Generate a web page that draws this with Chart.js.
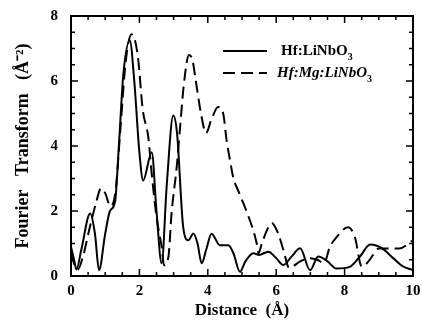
<!DOCTYPE html>
<html>
<head>
<meta charset="utf-8">
<script src="https://cdn.jsdelivr.net/npm/chart.js@4.4.1/dist/chart.umd.min.js"></script>
<style>
  html, body { margin: 0; padding: 0; background: #fff; }
  #wrap { width: 422px; height: 321px; }
</style>
</head>
<body>
<div id="wrap"><canvas id="ft-chart" width="422" height="321"></canvas></div>
<script>
// Hf:LiNbO3 (solid)
const solidDistance = [0, 0.08, 0.16, 0.3, 0.56, 0.7, 0.82, 1.0, 1.14, 1.29, 1.4, 1.53, 1.72, 1.85, 2.0, 2.11, 2.36, 2.5, 2.65, 2.8, 2.99, 3.1, 3.28, 3.43, 3.58, 3.7, 3.82, 3.95, 4.11, 4.35, 4.6, 4.75, 4.94, 5.1, 5.33, 5.5, 5.77, 6.0, 6.21, 6.45, 6.7, 6.99, 7.23, 7.5, 7.76, 8.15, 8.45, 8.75, 9.1, 9.42, 9.7, 10];
const solidValues = [0.9, 0.55, 0.2, 0.8, 1.92, 1.3, 0.18, 1.3, 2.0, 2.3, 4.0, 6.2, 7.25, 6.0, 3.8, 2.94, 3.81, 2.0, 0.39, 2.8, 4.94, 4.4, 1.51, 1.1, 1.31, 1.0, 0.39, 0.8, 1.3, 0.95, 0.95, 0.7, 0.13, 0.45, 0.7, 0.65, 0.75, 0.55, 0.34, 0.6, 0.85, 0.18, 0.6, 0.45, 0.23, 0.28, 0.6, 0.97, 0.85, 0.55, 0.3, 0.18];

// Hf:Mg:LiNbO3 (dashed)
const dashDistance = [0, 0.1, 0.2, 0.35, 0.55, 0.72, 0.88, 1.0, 1.15, 1.3, 1.45, 1.6, 1.77, 1.95, 2.1, 2.26, 2.36, 2.5, 2.65, 2.72, 2.85, 2.94, 3.09, 3.19, 3.3, 3.45, 3.55, 3.65, 3.8, 3.95, 4.1, 4.3, 4.45, 4.55, 4.65, 4.74, 4.94, 5.14, 5.33, 5.43, 5.48, 5.58, 5.77, 5.87, 6.06, 6.21, 6.38, 6.7, 7.0, 7.2, 7.4, 7.57, 7.77, 8.1, 8.3, 8.5, 8.65, 8.83, 9.0, 9.6, 10];
const dashValues = [0.7, 0.35, 0.2, 0.6, 1.5, 2.2, 2.7, 2.55, 2.15, 2.6, 4.6, 6.6, 7.44, 6.8, 5.1, 4.27, 3.15, 1.82, 0.9, 0.33, 0.6, 1.92, 3.35, 4.58, 5.9, 6.8, 6.65, 6.0, 5.0, 4.4, 4.8, 5.2, 5.0, 4.17, 3.56, 3.05, 2.5, 1.97, 1.4, 1.0, 0.7, 1.0, 1.5, 1.63, 1.3, 0.8, 0.25, 0.45, 0.55, 0.5, 0.4, 0.9, 1.2, 1.5, 1.2, 0.29, 0.39, 0.64, 0.85, 0.85, 1.1];

const seriesNames = ['Hf:LiNbO', 'Hf:Mg:LiNbO'];
const xTicks = [0, 2, 4, 6, 8, 10];
const yTicks = [0, 2, 4, 6, 8];

const serif = '"Liberation Serif", "Times New Roman", serif';

function toPoints(xs, ys) {
    return xs.map(function(x, i) { return { x: x, y: ys[i] }; });
}

// frame + inward ticks on all four sides
const framePlugin = {
    id: 'frame',
    afterDraw: function(chart) {
        const ctx = chart.ctx;
        const a = chart.chartArea;
        const xs = chart.scales.x;
        const ys = chart.scales.y;
        ctx.save();
        ctx.strokeStyle = '#000';
        ctx.lineWidth = 2;
        ctx.strokeRect(a.left, a.top, a.right - a.left, a.bottom - a.top);
        ctx.lineWidth = 1.5;
        ctx.beginPath();
        for (let v = 0; v <= 10.001; v += 0.5) {
            const px = xs.getPixelForValue(v);
            const len = xTicks.indexOf(v) >= 0 ? 7 : 4;
            ctx.moveTo(px, a.bottom); ctx.lineTo(px, a.bottom - len);
            ctx.moveTo(px, a.top); ctx.lineTo(px, a.top + len);
        }
        for (let v = 0; v <= 8.001; v += 0.5) {
            const py = ys.getPixelForValue(v);
            const len = yTicks.indexOf(v) >= 0 ? 7 : 4;
            ctx.moveTo(a.left, py); ctx.lineTo(a.left + len, py);
            ctx.moveTo(a.right, py); ctx.lineTo(a.right - len, py);
        }
        ctx.stroke();

        // legend with subscript 3
        const rows = [
            { y: 51, dash: [], font: 'bold 15px ' + serif },
            { y: 73, dash: [12, 6], font: 'italic bold 15px ' + serif }
        ];
        rows.forEach(function(r, i) {
            ctx.setLineDash(r.dash);
            ctx.lineWidth = 2;
            ctx.beginPath();
            ctx.moveTo(223, r.y);
            ctx.lineTo(267, r.y);
            ctx.stroke();
            ctx.setLineDash([]);
            ctx.fillStyle = '#000';
            ctx.font = r.font;
            ctx.textBaseline = 'middle';
            ctx.textAlign = 'left';
            const x0 = i === 0 ? 281 : 277;
            ctx.fillText(seriesNames[i], x0, r.y);
            const w = ctx.measureText(seriesNames[i]).width;
            ctx.font = 'bold 10px ' + serif;
            ctx.fillText('3', x0 + w, r.y + 6);
        });
        ctx.restore();
    }
};

new Chart(document.getElementById('ft-chart'), {
    type: 'line',
    data: {
        datasets: [{
            label: seriesNames[0] + '3',
            data: toPoints(solidDistance, solidValues),
            borderColor: '#000',
            borderWidth: 2,
            pointRadius: 0,
            cubicInterpolationMode: 'monotone',
            fill: false
        }, {
            label: seriesNames[1] + '3',
            data: toPoints(dashDistance, dashValues),
            borderColor: '#000',
            borderWidth: 2,
            borderDash: [12, 6],
            pointRadius: 0,
            cubicInterpolationMode: 'monotone',
            fill: false
        }]
    },
    options: {
        responsive: false,
        animation: false,
        layout: { padding: { top: 16, right: 9, left: 13, bottom: 0 } },
        plugins: {
            legend: { display: false },
            tooltip: { enabled: false }
        },
        scales: {
            x: {
                type: 'linear',
                min: 0,
                max: 10,
                afterFit: function(s) { s.height = 45; s.paddingRight = 0; s.paddingLeft = 0; },
                afterBuildTicks: function(s) { s.ticks = xTicks.map(function(v) { return { value: v }; }); },
                grid: { display: false, drawTicks: false },
                border: { display: false },
                ticks: {
                    color: '#000',
                    padding: 6,
                    font: { family: serif, size: 15, weight: 'bold' }
                },
                title: {
                    display: true,
                    text: 'Distance  (Å)',
                    color: '#000',
                    padding: { top: 0, bottom: 0 },
                    font: { family: serif, size: 17, weight: 'bold' }
                }
            },
            y: {
                min: 0,
                max: 8,
                afterFit: function(s) { s.width = 58; s.paddingTop = 0; s.paddingBottom = 0; },
                afterBuildTicks: function(s) { s.ticks = yTicks.map(function(v) { return { value: v }; }); },
                grid: { display: false, drawTicks: false },
                border: { display: false },
                ticks: {
                    color: '#000',
                    padding: 13,
                    font: { family: serif, size: 15, weight: 'bold' }
                },
                title: {
                    display: true,
                    text: 'Fourier   Transform   (Å⁻²)',
                    color: '#000',
                    padding: { top: 0, bottom: 0 },
                    font: { family: serif, size: 18, weight: 'bold' }
                }
            }
        }
    },
    plugins: [framePlugin]
});
</script>
</body>
</html>
